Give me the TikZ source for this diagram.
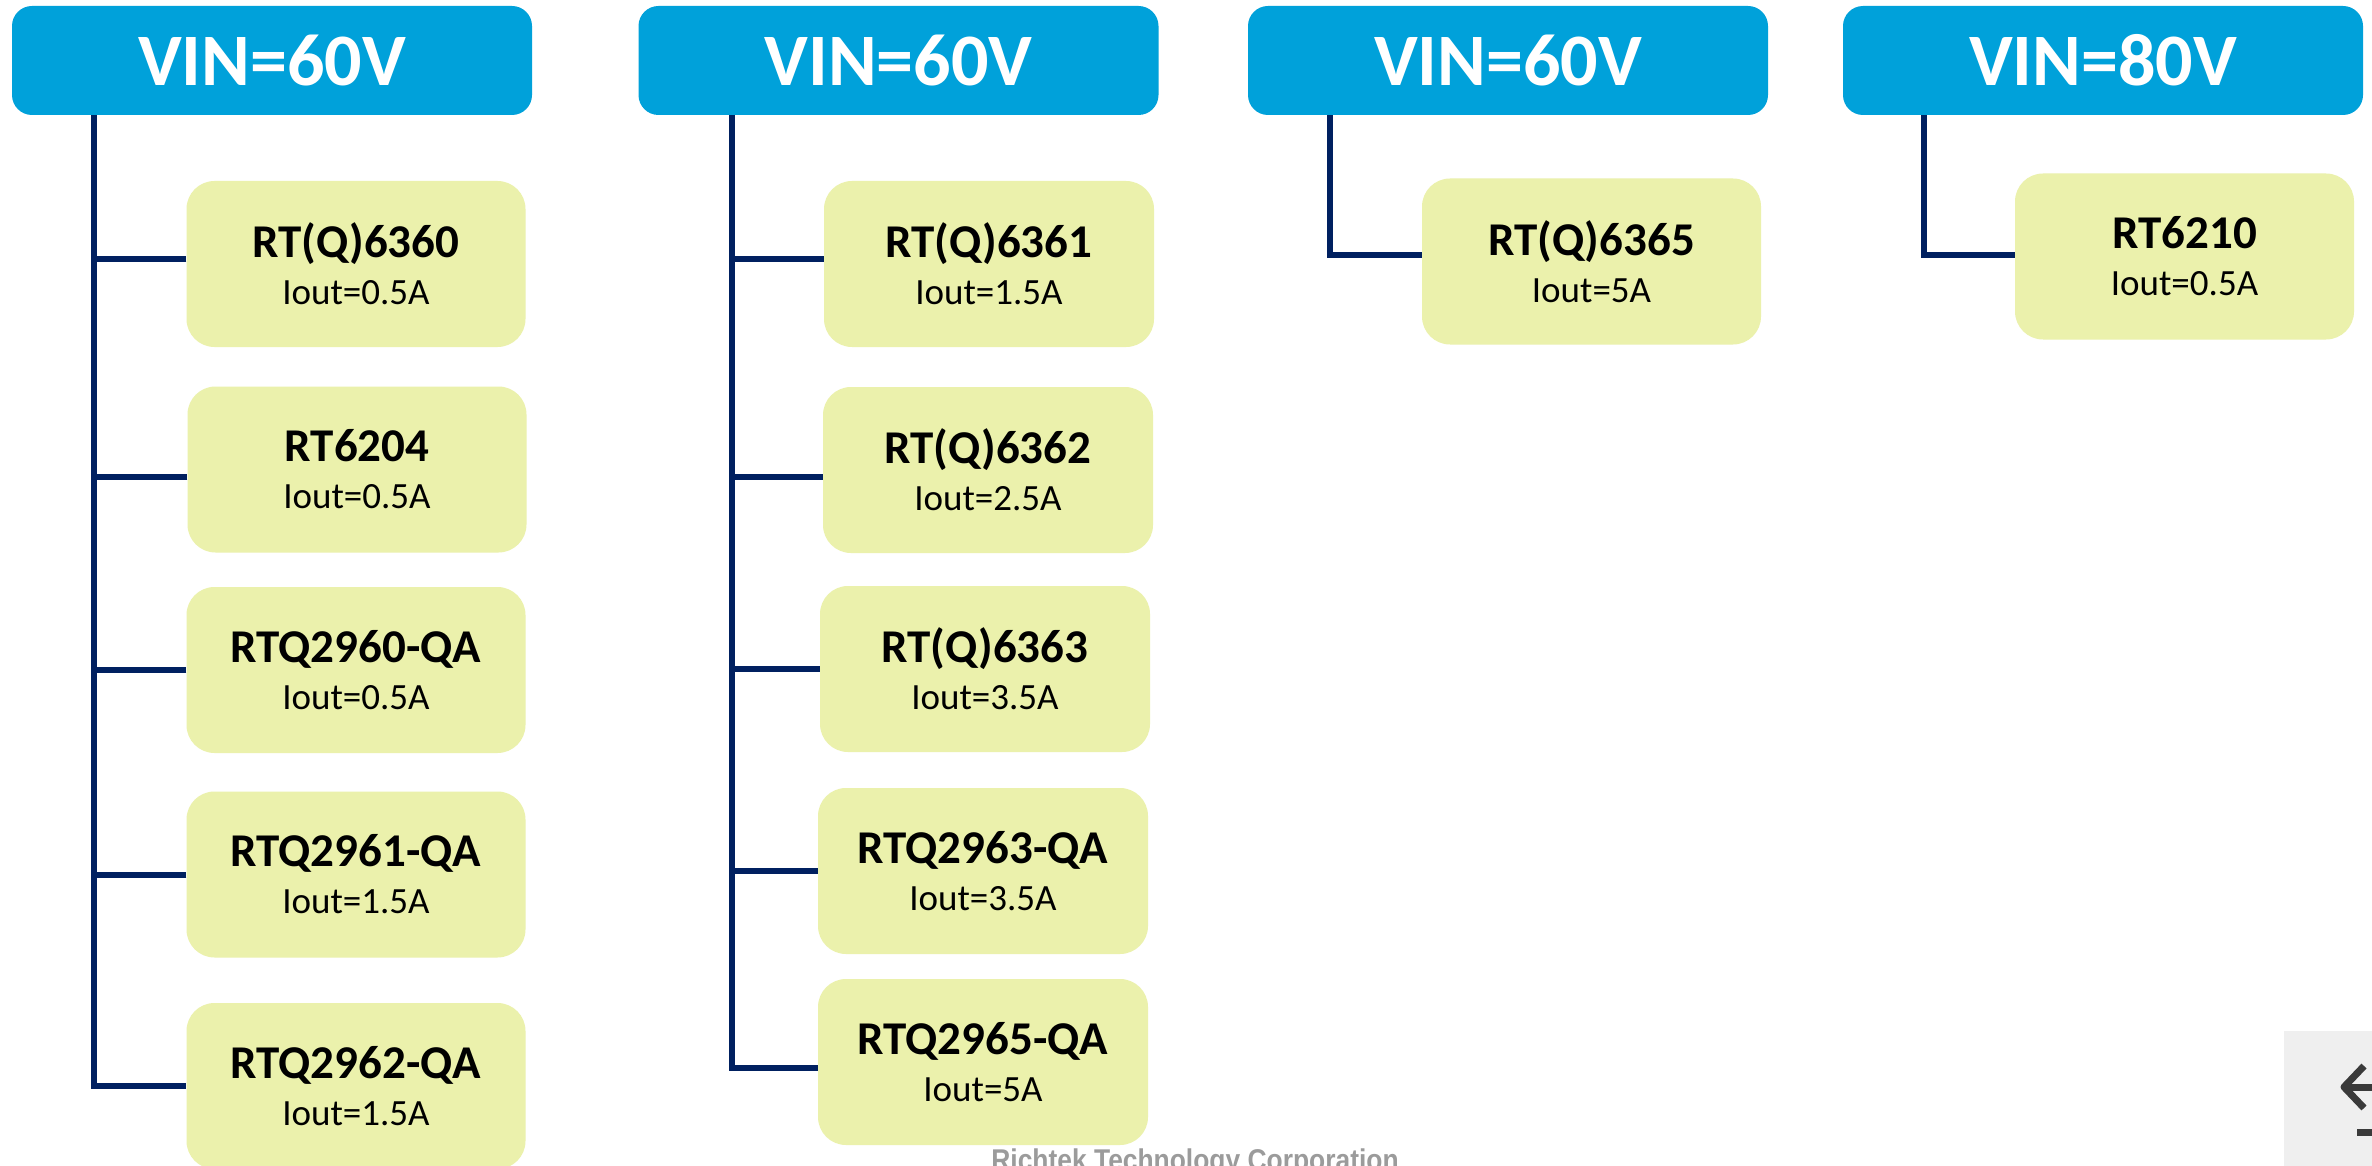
\documentclass[tikz,border=0pt]{standalone}
\usepackage{fontspec}
\setmainfont{Carlito}
\newfontfamily\corpfont[FakeStretch=0.88]{Liberation Sans}
\usepackage{xcolor}
\usepackage{tikz}
\usetikzlibrary{positioning, calc}

\definecolor{vinblue}{RGB}{0,161,218}
\definecolor{partfill}{RGB}{235,241,172}
\definecolor{wirenavy}{RGB}{0,32,96}
\definecolor{corpgray}{RGB}{155,155,155}
\definecolor{panelgray}{RGB}{239,239,239}
\definecolor{icongray}{RGB}{58,58,58}

\begin{document}
\begin{tikzpicture}[
  x=1pt, y=-1pt,
  header/.style={
    rectangle, rounded corners=20pt, fill=vinblue, text=white, inner sep=0pt,
    minimum width=520pt, minimum height=109pt, font=\fontsize{74}{80}\selectfont\bfseries
  },
  part/.style={
    rectangle, rounded corners=28pt, fill=partfill, inner sep=0pt, align=center,
    minimum width=339pt, minimum height=166pt, font=\fontsize{37}{47}\selectfont
  },
  narrow/.style={minimum width=330pt},
  wire/.style={wirenavy, line width=6pt},
  corp/.style={font=\corpfont\bfseries\fontsize{30}{30}\selectfont, text=corpgray, inner sep=0pt}
]
\newcommand{\pname}[1]{{\fontsize{47}{47}\selectfont\bfseries #1}}

\path[use as bounding box, fill=white] (0,0) rectangle (2372,1166);

% ==================== HEADERS ====================
\node[header] (h1) at (272,60.5) {VIN=60V};
\node[header] (h2) at (898.5,60.5) {VIN=60V};
\node[header] (h3) at (1508,60.5) {VIN=60V};
\node[header] (h4) at (2103,60.5) {VIN=80V};

% trunk positions
\coordinate (t1) at (94,0);
\coordinate (t2) at (731.5,0);
\coordinate (t3) at (1330,0);
\coordinate (t4) at (1924,0);

% ==================== PARTS ====================
% VIN=60V, first column
\node[part] (a1) at (356,264) {\pname{RT(Q)6360}\\Iout=0.5A};
\node[part] (a2) at (357,469.5) {\pname{RT6204}\\Iout=0.5A};
\node[part] (a3) at (356,670) {\pname{RTQ2960-QA}\\Iout=0.5A};
\node[part] (a4) at (356,874.5) {\pname{RTQ2961-QA}\\Iout=1.5A};
\node[part] (a5) at (356,1086) {\pname{RTQ2962-QA}\\Iout=1.5A};

% VIN=60V, second column
\node[part, narrow] (b1) at (989,264) {\pname{RT(Q)6361}\\Iout=1.5A};
\node[part, narrow] (b2) at (988,470) {\pname{RT(Q)6362}\\Iout=2.5A};
\node[part, narrow] (b3) at (985,669) {\pname{RT(Q)6363}\\Iout=3.5A};
\node[part, narrow] (b4) at (983,871) {\pname{RTQ2963-QA}\\Iout=3.5A};
\node[part, narrow] (b5) at (983,1062) {\pname{RTQ2965-QA}\\Iout=5A};

% VIN=60V, third column
\node[part] (c1) at (1591.5,261.5) {\pname{RT(Q)6365}\\Iout=5A};

% VIN=80V
\node[part] (d1) at (2184.5,256.5) {\pname{RT6210}\\Iout=0.5A};

% ==================== CONNECTIONS ====================
\draw[wire] (h1.south -| t1) |- (a5.west);
\foreach \p/\s in {a1/5,a2/-7,a3/0,a4/0}
  \draw[wire] ([yshift=\s pt]\p.west) -- ([yshift=\s pt]\p.west -| t1);

\draw[wire] (h2.south -| t2) |- ([yshift=-6pt]b5.west);
\foreach \p/\s in {b1/5,b2/-7,b3/0,b4/0}
  \draw[wire] ([yshift=\s pt]\p.west) -- ([yshift=\s pt]\p.west -| t2);

\draw[wire] (h3.south -| t3) |- ([yshift=6pt]c1.west);
\draw[wire] (h4.south -| t4) |- ([yshift=1.5pt]d1.west);

% ==================== FOOTER ====================
\node[corp, anchor=base] (corp) at (1195,1170) {Richtek Technology Corporation};

% page control in the corner
\fill[panelgray] (2284,1031) rectangle (2372,1166);
\draw[icongray, line width=7pt, line join=round] (2364,1066) -- (2344,1087) -- (2364,1108);
\draw[icongray, line width=7pt] (2344,1087) -- (2372,1087);
\draw[icongray, line width=7pt] (2357,1132) -- (2372,1132);
\end{tikzpicture}
\end{document}
